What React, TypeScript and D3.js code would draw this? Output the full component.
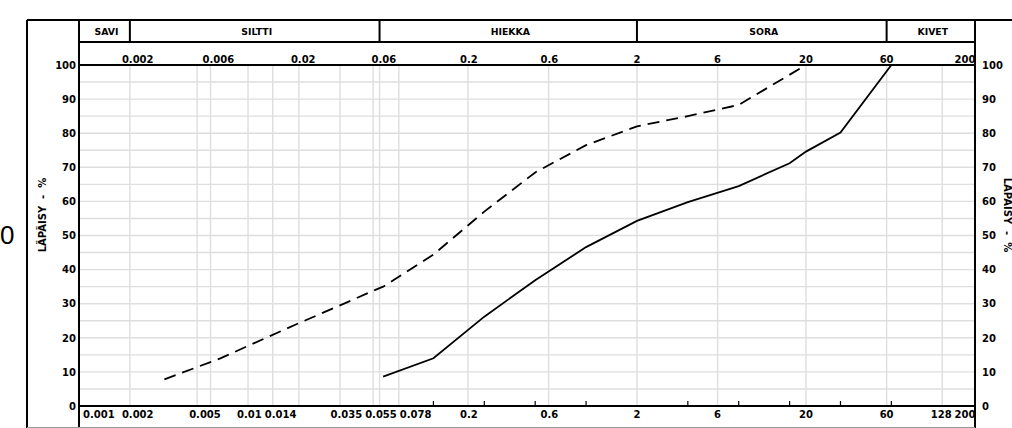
import React from 'react';
import * as d3 from 'd3';

const width = 1012;
const height = 428;
const margin = { left: 79, right: 37, top: 65, bottom: 22 };

// particle size, mm / passing %
const solidSize = [0.063, 0.125, 0.25, 0.5, 1, 2, 4, 8, 16, 20, 32, 64];
const solidPass = [8.6, 14.0, 26.2, 36.9, 46.6, 54.3, 59.8, 64.5, 71.2, 74.6, 80.2, 100];

const dashSize = [0.0032, 0.0068, 0.02, 0.035, 0.055, 0.063, 0.125, 0.25, 0.5, 1, 2, 4, 8, 20];
const dashPass = [7.8, 13.9, 24.3, 29.5, 33.8, 35.0, 44.4, 57.0, 68.5, 76.5, 82.0, 85.0, 88.3, 100];

const gridSizes = [0.002, 0.005, 0.006, 0.01, 0.014, 0.02, 0.035, 0.055, 0.06, 0.078, 0.2, 0.6, 2, 6, 20, 60, 128];
const topLabels = ['0.002', '0.006', '0.02', '0.06', '0.2', '0.6', '2', '6', '20', '60', '200'];
const bottomLabels = ['0.001', '0.002', '0.005', '0.01', '0.014', '0.035', '0.055', '0.078', '0.2', '0.6', '2', '6', '20', '60', '128', '200'];
const sieveTicks = [0.125, 0.25, 0.5, 1, 4, 8, 16, 32, 64];

const classNames = ['SAVI', 'SILTTI', 'HIEKKA', 'SORA', 'KIVET'];
const classBounds = [0.001, 0.002, 0.06, 2, 60, 200];

const yTicks = [0, 10, 20, 30, 40, 50, 60, 70, 80, 90, 100];
const yGrid = d3.range(0, 101, 5);

const font = 'DejaVu Sans, sans-serif';

const x = d3.scaleLog().domain([0.001, 200]).range([margin.left, width - margin.right]);
const y = d3.scaleLinear().domain([0, 100]).range([height - margin.bottom, margin.top]);

const textW = (s: string) => {
  let w = 0;
  for (const c of s) w += c === '.' ? 3.8 : 6.96;
  return w;
};

// decimal point sits on the tick, whole numbers are centred;
// on overlap the left label moves left as far as it can, the rest goes right
const placeLabels = (labels: string[]) => {
  const gap = 3;
  const x0 = margin.left + 4;
  const x1 = width - margin.right + 0.5;
  const out = labels.map(l => {
    const px = x(+l);
    const w = textW(l);
    let start = l.includes('.') ? px - 8 : px - w / 2;
    if (start < x0) start = x0;
    if (start + w > x1) start = x1 - w;
    return { l, start, w };
  });
  for (let i = 1; i < out.length; i++) {
    const p = out[i - 1];
    const c = out[i];
    let over = p.start + p.w + gap - c.start;
    if (over > 0) {
      const pp = out[i - 2];
      const room = pp ? Math.max(0, p.start - (pp.start + pp.w + gap)) : p.start - x0;
      const left = Math.min(room, over);
      p.start -= left;
      over -= left;
      c.start += over;
    }
  }
  return out;
};

const App = () => {
  const line = d3.line<[number, number]>().x(d => x(d[0])).y(d => y(d[1]));
  const solid = line(solidSize.map((s, i) => [s, solidPass[i]]));
  const dashed = line(dashSize.map((s, i) => [s, dashPass[i]]));

  const x0 = margin.left;
  const x1 = width - margin.right;
  const yb = y(0);
  const yt = y(100);

  return (
    <svg width={width} height={height} style={{ position: 'absolute', left: 0, top: 0, background: '#fff' }}
      fontFamily={font} fontWeight="bold">
      {/* grid */}
      {yGrid.map(v => (
        <line key={'h' + v} x1={x0} x2={x1} y1={y(v)} y2={y(v)} stroke="#dedede" strokeWidth={1.4} />
      ))}
      {gridSizes.map(v => (
        <line key={'v' + v} x1={x(v)} x2={x(v)} y1={yt} y2={yb} stroke="#dedede" strokeWidth={1.4} />
      ))}

      {/* frame */}
      <line x1={27} x2={width} y1={20} y2={20} stroke="#000" strokeWidth={2} />
      <line x1={27} x2={27} y1={20} y2={height} stroke="#000" strokeWidth={2} />
      <line x1={x0} x2={x0} y1={20} y2={height} stroke="#000" strokeWidth={2} />
      <line x1={x1} x2={x1} y1={20} y2={height} stroke="#000" strokeWidth={2} />
      <line x1={x0} x2={x1} y1={42} y2={42} stroke="#000" strokeWidth={2} />
      <line x1={x0} x2={x1} y1={yt} y2={yt} stroke="#000" strokeWidth={2} />
      <line x1={x0} x2={x1} y1={yb} y2={yb} stroke="#000" strokeWidth={2} />
      <line x1={27} x2={x1} y1={427.5} y2={427.5} stroke="#999" strokeWidth={1} />

      {/* soil classes */}
      {classNames.map((n, i) => {
        const a = x(classBounds[i]);
        const b = x(classBounds[i + 1]);
        return (
          <g key={n}>
            {i > 0 && <line x1={a} x2={a} y1={20} y2={42} stroke="#000" strokeWidth={2} />}
            <text x={(a + b) / 2 + 2} y={35} textAnchor="middle" fontSize={9.3}>{n}</text>
          </g>
        );
      })}

      {/* top sizes */}
      {placeLabels(topLabels).map(d => (
        <text key={'t' + d.l} x={d.start} y={62.5} fontSize={10}>{d.l}</text>
      ))}

      {/* bottom sizes */}
      {placeLabels(bottomLabels).map(d => (
        <text key={'b' + d.l} x={d.start} y={418} fontSize={10}>{d.l}</text>
      ))}
      {sieveTicks.map(v => (
        <line key={'s' + v} x1={x(v)} x2={x(v)} y1={yb} y2={yb - 5} stroke="#000" strokeWidth={1.2} />
      ))}

      {/* y labels */}
      {yTicks.map(v => (
        <g key={'y' + v}>
          <text x={x0 - 3} y={y(v) + 3.7} textAnchor="end" fontSize={10}>{v}</text>
          <text x={x1 + 7} y={y(v) + 3.7} fontSize={10}>{v}</text>
        </g>
      ))}

      <text transform={`translate(46,215) rotate(-90)`} textAnchor="middle" fontSize={10}
        style={{ whiteSpace: 'pre' }}>{'LÄPÄISY  -  %'}</text>
      <text transform={`translate(1004,215) rotate(90)`} textAnchor="middle" fontSize={10}
        style={{ whiteSpace: 'pre' }}>{'LÄPÄISY  -  %'}</text>
      <text x={0} y={244} fontSize={26} fontWeight="normal" fontFamily="Liberation Sans, sans-serif">0</text>

      {/* curves */}
      <path d={dashed ?? ''} fill="none" stroke="#000" strokeWidth={1.8} strokeDasharray="12,7" />
      <path d={solid ?? ''} fill="none" stroke="#000" strokeWidth={1.8} />
    </svg>
  );
};

export default App;
